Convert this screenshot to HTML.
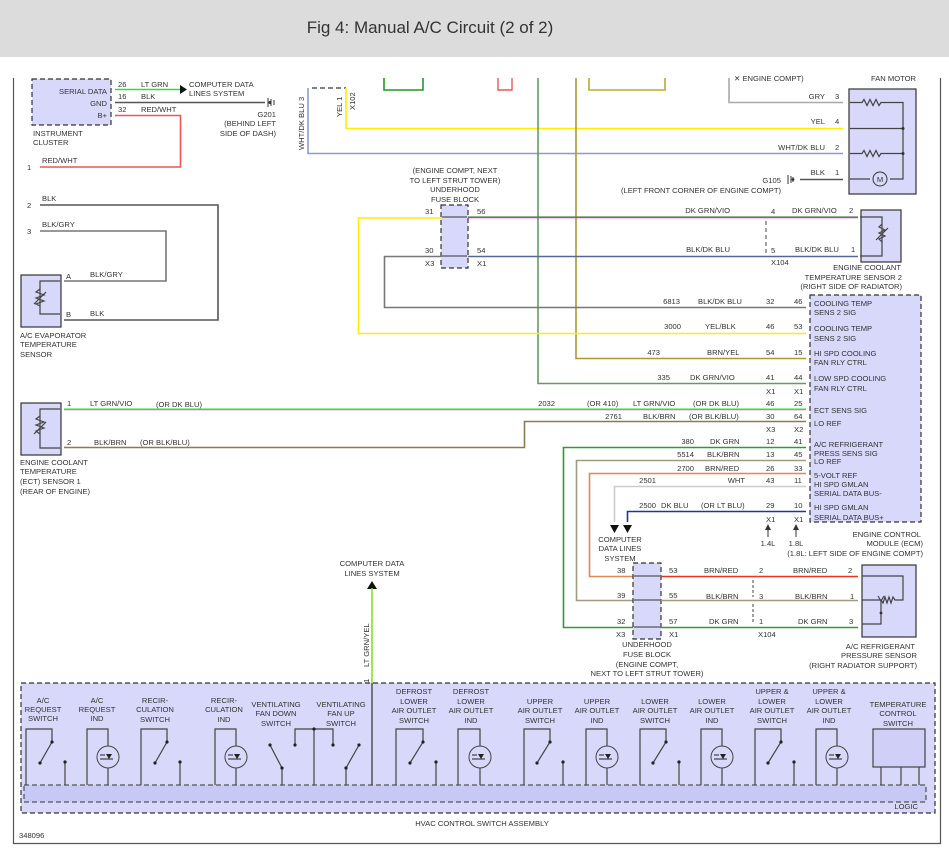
<!DOCTYPE html>
<html><head><meta charset="utf-8"><style>
html,body{margin:0;padding:0;background:#fff;width:949px;height:854px;overflow:hidden}
svg{display:block}
text{font-family:"Liberation Sans",sans-serif;font-size:7.6px;fill:#333}
.h{font-size:17px;fill:#333}
.c{text-anchor:middle}.r{text-anchor:end}
.box{fill:#d8d8fa;stroke:#333;stroke-width:1.2}
.dbox{fill:#d8d8fa;stroke:#333;stroke-width:1.2;stroke-dasharray:5 3}
.k{fill:none;stroke:#444;stroke-width:1.2}
.w{fill:none;stroke-width:1.6}
</style></head><body>
<svg width="949" height="854" viewBox="0 0 949 854" xmlns="http://www.w3.org/2000/svg">
<rect x="0" y="0" width="949" height="57" fill="#dcdcdc"/>
<text x="430" y="33" class="h c">Fig 4: Manual A/C Circuit (2 of 2)</text>
<!-- frame -->
<path d="M13.5 78 V843.5 H940.5 V78" fill="none" stroke="#555" stroke-width="1.2"/>

<!-- instrument cluster -->
<rect x="32" y="79" width="79" height="46" class="dbox"/>
<text x="107" y="94" class="r">SERIAL DATA</text><text x="107" y="106" class="r">GND</text><text x="107" y="118" class="r">B+</text>
<text x="118" y="87">26</text><text x="118" y="99">16</text><text x="118" y="112">32</text>
<text x="141" y="87">LT GRN</text><text x="141" y="99">BLK</text><text x="141" y="112">RED/WHT</text>
<path d="M115 89.5 H180" class="w" stroke="#33dd33"/><path d="M180 85 L187 89.5 L180 94Z" fill="#111"/>
<text x="189" y="87">COMPUTER DATA</text><text x="189" y="96">LINES SYSTEM</text>
<path d="M115 102.5 H265" class="w" stroke="#555"/><path d="M268 98 V107 M271 99 V106 M274 100 V105" stroke="#333"/><circle cx="270" cy="102.5" r="1.5" fill="#333"/>
<text x="276" y="117" class="r">G201</text><text x="276" y="126" class="r">(BEHIND LEFT</text><text x="276" y="136" class="r">SIDE OF DASH)</text>
<path d="M115 115.5 H180.5 V167 H40" class="w" stroke="#ee5555"/>
<text x="33" y="136">INSTRUMENT</text><text x="33" y="145">CLUSTER</text>
<text x="42" y="163">RED/WHT</text><text x="27" y="170">1</text>
<path d="M40 205 H218 V320 H64" class="w" stroke="#555"/>
<text x="42" y="201">BLK</text><text x="27" y="208">2</text>
<path d="M40 231 H166 V281 H64" class="w" stroke="#777"/>
<text x="42" y="227">BLK/GRY</text><text x="27" y="234">3</text>
<rect x="21" y="275" width="40" height="52" class="box"/>
<path d="M60 281 H40 V314 H60" class="k"/><path d="M40 289 l-4 3 l8 3 l-8 3 l8 3 l-8 3 l4 2 M34 304 L46 292" class="k"/>
<text x="66" y="279">A</text><text x="66" y="317">B</text>
<text x="90" y="277">BLK/GRY</text><text x="90" y="316">BLK</text>
<text x="20" y="338">A/C EVAPORATOR</text><text x="20" y="347">TEMPERATURE</text><text x="20" y="357">SENSOR</text>

<!-- X102 -->
<path d="M308 88 V153.5 H843" class="w" stroke="#8f99cc"/>
<path d="M312 88 H346" stroke="#555" stroke-dasharray="5 3" stroke-width="1.4"/>
<path d="M346 88 V128.5 H843" class="w" stroke="#ffee00" stroke-width="2"/>
<text transform="translate(304,150) rotate(-90)">WHT/DK BLU  3</text>
<text transform="translate(342,117) rotate(-90)">YEL   1</text>
<text transform="translate(355,110) rotate(-90)">X102</text>
<path d="M384 78 V90 H423 V78" fill="none" stroke="#229922" stroke-width="1.6"/>
<path d="M498 78 V90 H512 V78" fill="none" stroke="#ee5555" stroke-width="1.4"/>
<path d="M538 78 V383.5 H806" class="w" stroke="#669966"/>
<path d="M576 78 V358.5 H806" class="w" stroke="#aa9933"/>
<path d="M589 78 V90 H665 V78" fill="none" stroke="#bbaa33" stroke-width="1.6"/>

<!-- fan motor -->
<text x="734" y="81">✕  ENGINE COMPT)</text><text x="916" y="81" class="r">FAN MOTOR</text>
<path d="M729 78 V102.5 H843" class="w" stroke="#aaa"/>
<rect x="849" y="89" width="67" height="105" class="box"/>
<text x="825" y="99" class="r">GRY</text><text x="835" y="99">3</text>
<text x="825" y="124" class="r">YEL</text><text x="835" y="124">4</text>
<text x="825" y="150" class="r">WHT/DK BLU</text><text x="835" y="150">2</text>
<text x="825" y="175" class="r">BLK</text><text x="835" y="175">1</text>
<path d="M850 102.5 H862 l2-3 l3 6 l3-6 l3 6 l3-6 l3 6 l2-3 H903 V179 H890 M850 128.5 H903 M850 153.5 H862 l2-3 l3 6 l3-6 l3 6 l3-6 l3 6 l2-3 H903 M850 179 H870" class="k"/>
<circle cx="903" cy="128.5" r="1.5" fill="#333"/><circle cx="903" cy="153.5" r="1.5" fill="#333"/>
<circle cx="880" cy="179" r="7" fill="#d8d8fa" stroke="#333"/><text x="880" y="182" class="c">M</text>
<path d="M800 179.5 H843" class="w" stroke="#555"/>
<path d="M788 175 V184 M791 176 V183 M793 177 V182" stroke="#333"/><circle cx="793" cy="179.5" r="1.4" fill="#333"/>
<text x="781" y="183" class="r">G105</text>
<text x="781" y="193" class="r">(LEFT FRONT CORNER OF ENGINE COMPT)</text>

<!-- upper fuse block -->
<text x="455" y="173" class="c">(ENGINE COMPT, NEXT</text><text x="455" y="183" class="c">TO LEFT STRUT TOWER)</text>
<text x="455" y="192" class="c">UNDERHOOD</text><text x="455" y="202" class="c">FUSE BLOCK</text>
<rect x="441" y="205" width="27" height="63" class="dbox"/>
<path d="M442 217 H467 M442 256 H467" stroke="#333"/>
<text x="425" y="214">31</text><text x="425" y="253">30</text><text x="477" y="214">56</text><text x="477" y="253">54</text>
<text x="425" y="266">X3</text><text x="477" y="266">X1</text>
<path d="M441 218 H358.5 V333.5 H806" class="w" stroke="#ffee00" stroke-width="2"/>
<path d="M441 256.5 H384.5 V307.5 H806" class="w" stroke="#777"/>
<path d="M468 217.5 H858" class="w" stroke="#cc33cc"/><path d="M468 216.5 H858" stroke="#339933" stroke-width="0.6"/>
<path d="M468 256.5 H858" class="w" stroke="#556699"/>
<path d="M766 221 V253" stroke="#444" stroke-dasharray="4 3"/>
<text x="730" y="213" class="r">DK GRN/VIO</text><text x="771" y="214">4</text><text x="792" y="213">DK GRN/VIO</text><text x="849" y="213">2</text>
<text x="730" y="252" class="r">BLK/DK BLU</text><text x="771" y="253">5</text><text x="795" y="252">BLK/DK BLU</text><text x="851" y="252">1</text>
<text x="771" y="265">X104</text>
<rect x="861" y="210" width="40" height="52" class="box"/>
<path d="M860 217 H882 V256 H860 M882 224 l-3 3 l6 3 l-6 3 l6 3 l-6 3 l3 3 M876 240 L888 228" class="k"/>
<text x="901" y="270" class="r">ENGINE COOLANT</text><text x="902" y="280" class="r">TEMPERATURE SENSOR 2</text><text x="902" y="289" class="r">(RIGHT SIDE OF RADIATOR)</text>

<!-- ECM -->
<rect x="810" y="295" width="111" height="227" class="dbox"/>
<g>
<text x="680" y="304" class="r">6813</text><text x="698" y="304">BLK/DK BLU</text><text x="766" y="304">32</text><text x="794" y="304">46</text>
<text x="681" y="329" class="r">3000</text><text x="705" y="329">YEL/BLK</text><text x="766" y="329">46</text><text x="794" y="329">53</text>
<text x="660" y="355" class="r">473</text><text x="707" y="355">BRN/YEL</text><text x="766" y="355">54</text><text x="794" y="355">15</text>
<text x="670" y="380" class="r">335</text><text x="690" y="380">DK GRN/VIO</text><text x="766" y="380">41</text><text x="794" y="380">44</text>
<text x="766" y="394">X1</text><text x="794" y="394">X1</text>
<text x="555" y="406" class="r">2032</text><text x="587" y="406">(OR 410)</text><text x="633" y="406">LT GRN/VIO</text><text x="693" y="406">(OR DK BLU)</text><text x="766" y="406">46</text><text x="794" y="406">25</text>
<text x="622" y="419" class="r">2761</text><text x="643" y="419">BLK/BRN</text><text x="689" y="419">(OR BLK/BLU)</text><text x="766" y="419">30</text><text x="794" y="419">64</text>
<text x="766" y="432">X3</text><text x="794" y="432">X2</text>
<text x="694" y="444" class="r">380</text><text x="710" y="444">DK GRN</text><text x="766" y="444">12</text><text x="794" y="444">41</text>
<text x="694" y="457" class="r">5514</text><text x="707" y="457">BLK/BRN</text><text x="766" y="457">13</text><text x="794" y="457">45</text>
<text x="694" y="471" class="r">2700</text><text x="705" y="471">BRN/RED</text><text x="766" y="471">26</text><text x="794" y="471">33</text>
<text x="656" y="483" class="r">2501</text><text x="745" y="483" class="r">WHT</text><text x="766" y="483">43</text><text x="794" y="483">11</text>
<text x="656" y="508" class="r">2500</text><text x="661" y="508">DK BLU</text><text x="701" y="508">(OR LT BLU)</text><text x="766" y="508">29</text><text x="794" y="508">10</text>
<text x="766" y="522">X1</text><text x="794" y="522">X1</text>
</g>
<text x="814" y="306">COOLING TEMP</text><text x="814" y="315">SENS 2 SIG</text>
<text x="814" y="331">COOLING TEMP</text><text x="814" y="341">SENS 2 SIG</text>
<text x="814" y="356">HI SPD COOLING</text><text x="814" y="365">FAN RLY CTRL</text>
<text x="814" y="381">LOW SPD COOLING</text><text x="814" y="391">FAN RLY CTRL</text>
<text x="814" y="413">ECT SENS SIG</text><text x="814" y="426">LO REF</text>
<text x="814" y="447">A/C REFRIGERANT</text><text x="814" y="456">PRESS SENS SIG</text><text x="814" y="464">LO REF</text>
<text x="814" y="478">5-VOLT REF</text><text x="814" y="487">HI SPD GMLAN</text><text x="814" y="496">SERIAL DATA BUS-</text>
<text x="814" y="510">HI SPD GMLAN</text><text x="814" y="520">SERIAL DATA BUS+</text>
<path d="M768 537 V527 M796 537 V527" stroke="#333"/><path d="M765 530 L768 524 L771 530Z M793 530 L796 524 L799 530Z" fill="#333"/>
<text x="768" y="546" class="c">1.4L</text><text x="796" y="546" class="c">1.8L</text>
<text x="921" y="537" class="r">ENGINE CONTROL</text><text x="923" y="546" class="r">MODULE (ECM)</text><text x="923" y="556" class="r">(1.8L: LEFT SIDE OF ENGINE COMPT)</text>

<!-- ECT sensor 1 wires -->
<path d="M64 409.5 H806" class="w" stroke="#cc66cc"/><path d="M64 408.8 H806" stroke="#55ee55" stroke-width="0.8"/>
<path d="M64 447.5 H524.5 V421.5 H806" class="w" stroke="#8a7a55"/>
<rect x="21" y="403" width="40" height="52" class="box"/>
<path d="M60 409 H40 V448 H60 M40 416 l-4 3 l8 3 l-8 3 l8 3 l-8 3 l4 3 M34 434 L46 422" class="k"/>
<text x="67" y="406">1</text><text x="67" y="445">2</text>
<text x="90" y="406">LT GRN/VIO</text><text x="156" y="407">(OR DK BLU)</text>
<text x="94" y="445">BLK/BRN</text><text x="140" y="445">(OR BLK/BLU)</text>
<text x="20" y="465">ENGINE COOLANT</text><text x="20" y="474">TEMPERATURE</text><text x="20" y="484">(ECT) SENSOR 1</text><text x="20" y="494">(REAR OF ENGINE)</text>

<!-- lower ECM wires -->
<path d="M806 447.5 H563.5 V627.5 H633" class="w" stroke="#339933" stroke-width="2"/>
<path d="M806 460.5 H576.5 V600.5 H633" class="w" stroke="#a09a80"/>
<path d="M806 473.5 H589.5 V576.5 H633" class="w" stroke="#e08855"/>
<path d="M806 486.5 H614.5 V522" class="w" stroke="#ccc"/>
<path d="M806 511.5 H627.5 V522" class="w" stroke="#223399" stroke-width="2"/>
<path d="M610 525 H619 L614.5 533Z M623 525 H632 L627.5 533Z" fill="#111"/>
<text x="620" y="542" class="c">COMPUTER</text><text x="620" y="551" class="c">DATA LINES</text><text x="620" y="561" class="c">SYSTEM</text>

<!-- lower fuse block -->
<rect x="633" y="563" width="28" height="76" class="dbox"/>
<path d="M634 576 H660 M634 600 H660 M634 627 H660" stroke="#333"/>
<text x="617" y="573">38</text><text x="617" y="598">39</text><text x="617" y="624">32</text>
<text x="669" y="573">53</text><text x="669" y="598">55</text><text x="669" y="624">57</text>
<text x="616" y="637">X3</text><text x="669" y="637">X1</text>
<path d="M661 576.5 H858" class="w" stroke="#ee3322"/>
<path d="M661 600.5 H858" class="w" stroke="#a09a80"/>
<path d="M661 627.5 H858" class="w" stroke="#339933" stroke-width="2"/>
<path d="M753 580 V597 M753 604 V624" stroke="#444" stroke-dasharray="3 2"/>
<text x="704" y="573">BRN/RED</text><text x="759" y="573">2</text><text x="793" y="573">BRN/RED</text><text x="848" y="573">2</text>
<text x="706" y="599">BLK/BRN</text><text x="759" y="599">3</text><text x="795" y="599">BLK/BRN</text><text x="850" y="599">1</text>
<text x="709" y="624">DK GRN</text><text x="759" y="624">1</text><text x="798" y="624">DK GRN</text><text x="849" y="624">3</text>
<text x="758" y="637">X104</text>
<rect x="862" y="565" width="54" height="72" class="box"/>
<path d="M862 576 H903 V600 H895 l-2 -3 l-2 6 l-2-6 l-2 6 l-2-6 l-2 6 l-2-3 H862 M881 600 V624 H862" class="k"/><path d="M878 596 L881 601 L884 596" class="k"/><circle cx="881" cy="613" r="1.4" fill="#333"/>
<text x="647" y="647" class="c">UNDERHOOD</text><text x="647" y="657" class="c">FUSE BLOCK</text><text x="647" y="667" class="c">(ENGINE COMPT,</text><text x="647" y="676" class="c">NEXT TO LEFT STRUT TOWER)</text>
<text x="915" y="649" class="r">A/C REFRIGERANT</text><text x="917" y="658" class="r">PRESSURE SENSOR</text><text x="917" y="668" class="r">(RIGHT RADIATOR SUPPORT)</text>

<!-- computer data lines to HVAC -->
<text x="372" y="566" class="c">COMPUTER DATA</text><text x="372" y="576" class="c">LINES SYSTEM</text>
<path d="M367 589 L372 581 L377 589Z" fill="#111"/>
<path d="M372 588 V683" class="w" stroke="#88dd33"/>
<text transform="translate(369,667) rotate(-90)">LT GRN/YEL</text>
<text transform="translate(369,683) rotate(-90)">1</text>

<!-- HVAC assembly -->
<rect x="21" y="683" width="914" height="130" class="dbox"/>
<rect x="24" y="785" width="902" height="17" fill="#c8c8f4" stroke="#333" stroke-width="1" stroke-dasharray="5 3"/>
<path d="M372 683 V785" stroke="#333" stroke-width="1.2"/>
<g class="k" stroke="#444">
<!-- switch generic: left a, right b, post p -->
<path d="M26 785 V729 H52 V742 L40 763 M65 762 V785"/>
<path d="M141 785 V729 H167 V742 L155 763 M180 762 V785"/>
<path d="M396 785 V729 H423 V742 L410 763 M436 762 V785"/>
<path d="M524 785 V729 H550 V742 L537 763 M563 762 V785"/>
<path d="M640 785 V729 H666 V742 L653 763 M679 762 V785"/>
<path d="M755 785 V729 H781 V742 L768 763 M794 762 V785"/>
<!-- indicators -->
<path d="M87 785 V729 H108 V746 M108 768 V785"/>
<path d="M215 785 V729 H236 V746 M236 768 V785"/>
<path d="M458 785 V729 H480 V746 M480 768 V785"/>
<path d="M586 785 V729 H607 V746 M607 768 V785"/>
<path d="M701 785 V729 H722 V746 M722 768 V785"/>
<path d="M816 785 V729 H837 V746 M837 768 V785"/>
<!-- vent fan -->
<path d="M270 745 L282 768 V785 M295 745 V729 H333 V745 M314 729 V785 M359 745 L346 768 V785"/>
<!-- temp control legs -->
<path d="M881 767 V785 M901 767 V785 M919 767 V785"/>
</g>
<g fill="#222">
<circle cx="52" cy="742" r="1.6"/><circle cx="40" cy="763" r="1.6"/><circle cx="65" cy="762" r="1.6"/>
<circle cx="167" cy="742" r="1.6"/><circle cx="155" cy="763" r="1.6"/><circle cx="180" cy="762" r="1.6"/>
<circle cx="423" cy="742" r="1.6"/><circle cx="410" cy="763" r="1.6"/><circle cx="436" cy="762" r="1.6"/>
<circle cx="550" cy="742" r="1.6"/><circle cx="537" cy="763" r="1.6"/><circle cx="563" cy="762" r="1.6"/>
<circle cx="666" cy="742" r="1.6"/><circle cx="653" cy="763" r="1.6"/><circle cx="679" cy="762" r="1.6"/>
<circle cx="781" cy="742" r="1.6"/><circle cx="768" cy="763" r="1.6"/><circle cx="794" cy="762" r="1.6"/>
<circle cx="270" cy="745" r="1.6"/><circle cx="282" cy="768" r="1.6"/><circle cx="295" cy="745" r="1.6"/><circle cx="314" cy="729" r="1.6"/><circle cx="333" cy="745" r="1.6"/><circle cx="359" cy="745" r="1.6"/><circle cx="346" cy="768" r="1.6"/>
</g>
<g fill="none" stroke="#444" stroke-width="1">
<circle cx="108" cy="757" r="11"/><circle cx="236" cy="757" r="11"/><circle cx="480" cy="757" r="11"/><circle cx="607" cy="757" r="11"/><circle cx="722" cy="757" r="11"/><circle cx="837" cy="757" r="11"/>
</g>
<g fill="#222">
<path d="M106 754 L112 754 L109 759Z M236 754 L240 754 L237 759Z"/>
<path d="M234 754 L240 754 L237 759Z M478 754 L484 754 L481 759Z M605 754 L611 754 L608 759Z M720 754 L726 754 L723 759Z M835 754 L841 754 L838 759Z"/>
</g>
<g stroke="#222" stroke-width="1">
<path d="M100 755 H105 M100 759 H105 M105 759 H113 M228 755 H233 M228 759 H233 M233 759 H241 M472 755 H477 M472 759 H477 M477 759 H485 M599 755 H604 M599 759 H604 M604 759 H612 M714 755 H719 M714 759 H719 M719 759 H727 M829 755 H834 M829 759 H834 M834 759 H842"/>
</g>
<rect x="873" y="729" width="52" height="38" fill="#cfcff7" stroke="#444" stroke-width="1.2"/>
<g class="c">
<text x="43" y="703" class="c">A/C</text><text x="43" y="712" class="c">REQUEST</text><text x="43" y="721" class="c">SWITCH</text>
<text x="97" y="703" class="c">A/C</text><text x="97" y="712" class="c">REQUEST</text><text x="97" y="721" class="c">IND</text>
<text x="155" y="703" class="c">RECIR-</text><text x="155" y="712" class="c">CULATION</text><text x="155" y="722" class="c">SWITCH</text>
<text x="224" y="703" class="c">RECIR-</text><text x="224" y="712" class="c">CULATION</text><text x="224" y="722" class="c">IND</text>
<text x="276" y="707" class="c">VENTILATING</text><text x="276" y="716" class="c">FAN DOWN</text><text x="276" y="726" class="c">SWITCH</text>
<text x="341" y="707" class="c">VENTILATING</text><text x="341" y="716" class="c">FAN UP</text><text x="341" y="726" class="c">SWITCH</text>
<text x="414" y="694" class="c">DEFROST</text><text x="414" y="704" class="c">LOWER</text><text x="414" y="713" class="c">AIR OUTLET</text><text x="414" y="723" class="c">SWITCH</text>
<text x="471" y="694" class="c">DEFROST</text><text x="471" y="704" class="c">LOWER</text><text x="471" y="713" class="c">AIR OUTLET</text><text x="471" y="723" class="c">IND</text>
<text x="540" y="704" class="c">UPPER</text><text x="540" y="713" class="c">AIR OUTLET</text><text x="540" y="723" class="c">SWITCH</text>
<text x="597" y="704" class="c">UPPER</text><text x="597" y="713" class="c">AIR OUTLET</text><text x="597" y="723" class="c">IND</text>
<text x="655" y="704" class="c">LOWER</text><text x="655" y="713" class="c">AIR OUTLET</text><text x="655" y="723" class="c">SWITCH</text>
<text x="712" y="704" class="c">LOWER</text><text x="712" y="713" class="c">AIR OUTLET</text><text x="712" y="723" class="c">IND</text>
<text x="772" y="694" class="c">UPPER &amp;</text><text x="772" y="704" class="c">LOWER</text><text x="772" y="713" class="c">AIR OUTLET</text><text x="772" y="723" class="c">SWITCH</text>
<text x="829" y="694" class="c">UPPER &amp;</text><text x="829" y="704" class="c">LOWER</text><text x="829" y="713" class="c">AIR OUTLET</text><text x="829" y="723" class="c">IND</text>
<text x="898" y="707" class="c">TEMPERATURE</text><text x="898" y="716" class="c">CONTROL</text><text x="898" y="726" class="c">SWITCH</text>
</g>
<text x="918" y="809" class="r">LOGIC</text>
<text x="482" y="826" class="c">HVAC CONTROL SWITCH ASSEMBLY</text>
<text x="19" y="838">348096</text>
</svg>
</body></html>
